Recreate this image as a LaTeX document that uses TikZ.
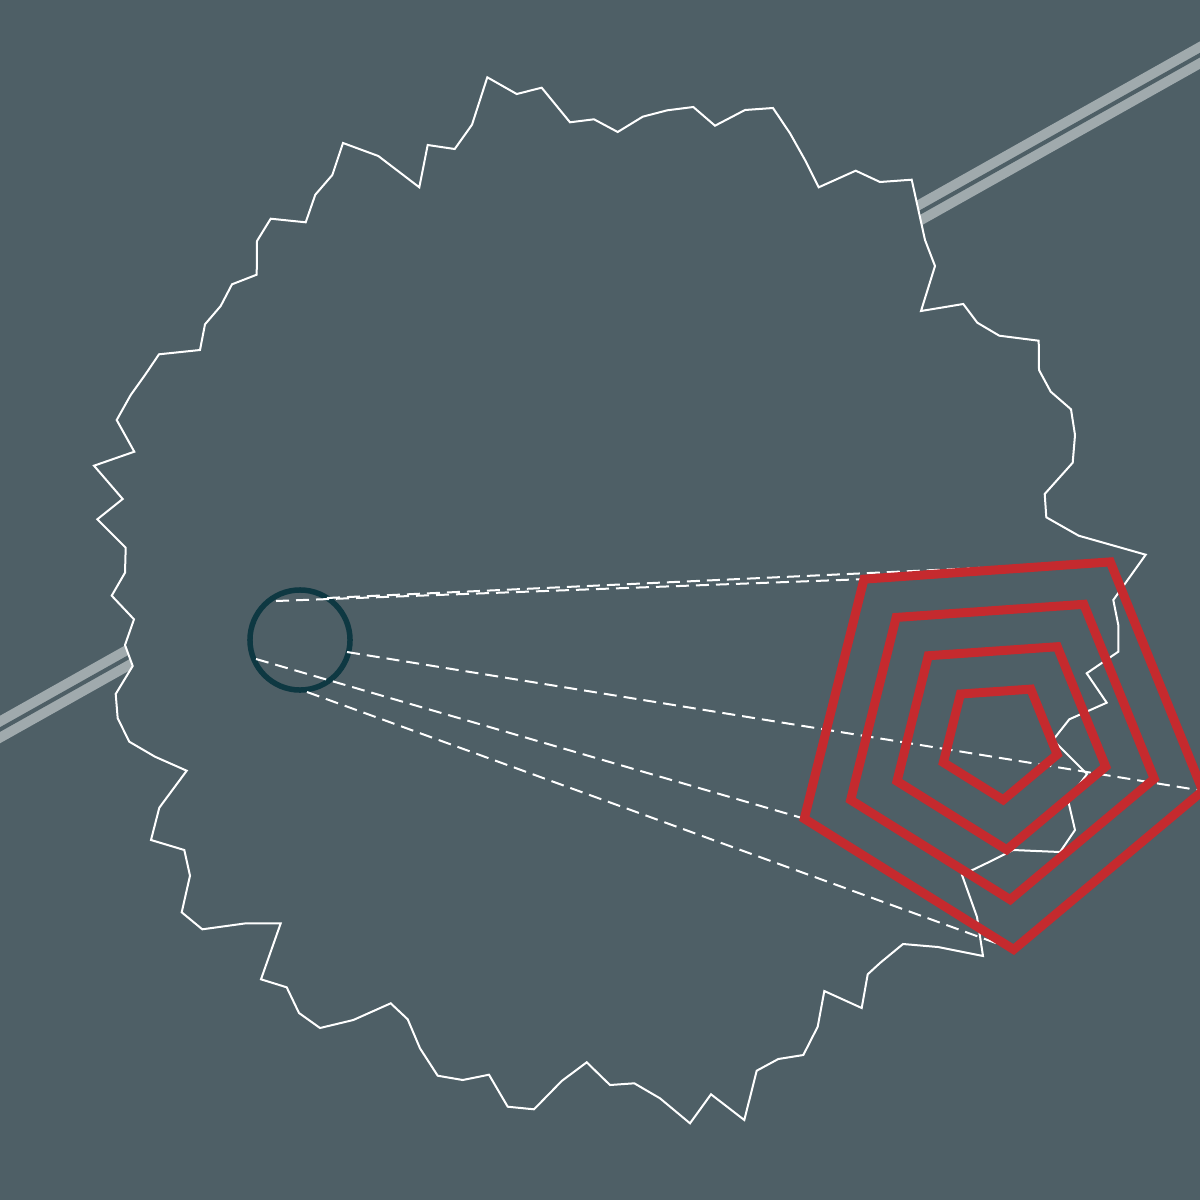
\documentclass[tikz,border=0pt]{standalone}
\usetikzlibrary{calc}
\definecolor{bgc}{RGB}{78,95,102}
\definecolor{rodc}{RGB}{160,170,173}
\definecolor{ringc}{RGB}{14,56,66}
\definecolor{redc}{RGB}{197,42,46}
\tikzset{
  rod/.style={draw=rodc, line width=0.1cm, double=bgc, double distance=0.04cm},
  rim/.style={fill=bgc, draw=white, line width=0.02cm, line join=miter},
  ring/.style={circle, draw=ringc, line width=0.055cm, minimum size=1cm, inner sep=0pt},
  ray/.style={draw=white, line width=0.02cm, dash pattern=on 0.13cm off 0.07cm},
  pent/.style={draw=redc, line width=0.09cm, line join=miter}
}
\begin{document}
\begin{tikzpicture}[x=0.01cm,y=-0.01cm]
\fill[bgc] (0,0) rectangle (1200,1200);
\useasboundingbox (0,0) rectangle (1200,1200);
\clip (0,0) rectangle (1200,1200);
% rod behind the rim
\coordinate (rodA) at (-50,757.6);
\coordinate (rodB) at (1250,27);
\draw[rod] (rodA) -- (rodB);
% jagged rim
\draw[rim] (487.3,77.3) -- (516.7,94) -- (541.7,87.7) -- (570,122.3) -- (594,119.3) -- (617.7,132) -- (642.7,116.7) -- (667.3,110.3) -- (693.3,107) -- (715,125.7) -- (745,110) -- (773,108) -- (790,133.3) -- (805,160) -- (818.7,187.3) -- (855.7,170.7) -- (880,182) -- (911.7,179.7) -- (925,240) -- (935,266) -- (921,311) -- (963.3,304) -- (977.3,322.7) -- (999.3,335.7) -- (1038.7,340.7) -- (1039,370) -- (1050.7,391.7) -- (1071,409.3) -- (1075,435) -- (1072.7,462.7) -- (1044.7,494) -- (1046.3,517.3) -- (1078.7,535.7) -- (1145.7,554.7) -- (1113.3,600) -- (1118.3,625) -- (1118.3,651.7) -- (1086.7,673.3) -- (1106.7,702.7) -- (1069.3,719.3) -- (1053,740) -- (1087,774) -- (1068,800) -- (1075,830) -- (1060,852) -- (1013,850) -- (987,863) -- (962,875) -- (977,917) -- (983,956) -- (938,947) -- (903,944) -- (880,963) -- (867.7,974.3) -- (861.7,1008) -- (824.3,991) -- (817.7,1026.7) -- (803.3,1055) -- (778.3,1059) -- (756.7,1070.7) -- (744.3,1120) -- (711,1094.3) -- (690,1123.3) -- (660,1098.3) -- (634.3,1083.3) -- (610,1085) -- (586.7,1062.3) -- (561.7,1081) -- (534,1109.3) -- (507.7,1106.7) -- (489,1074.7) -- (462.7,1080) -- (437.7,1075.7) -- (420,1048.3) -- (407.7,1019.3) -- (390.7,1003.3) -- (353.3,1020) -- (320,1028) -- (299,1013) -- (286.7,987.3) -- (261,979.3) -- (280.7,923.3) -- (246,923.3) -- (202.3,929.3) -- (181.7,912.3) -- (190,875.7) -- (184.3,850) -- (151,840) -- (159.3,807.7) -- (186.7,770.7) -- (155,756.7) -- (129.3,741.7) -- (117.7,718.3) -- (115.7,694) -- (132.7,666) -- (125,645) -- (134,619.3) -- (111.7,595.7) -- (125,572.7) -- (125.7,547.7) -- (97.3,519.3) -- (122.7,499) -- (94,465.7) -- (134.3,451.7) -- (116.7,420) -- (130.7,395) -- (145,375) -- (159,354.3) -- (200,350) -- (205,324.3) -- (220.7,306) -- (232,284.3) -- (256.7,274.7) -- (257,241) -- (270.7,218.7) -- (305.7,222.3) -- (315.3,194.7) -- (332.3,175) -- (343,143) -- (378.3,156) -- (419.3,187.3) -- (427.7,145) -- (454.7,149) -- (472,124.7) -- cycle;
% eye circle
\node[ring] (eye) at (300,640) {};
% pentagon centre and outer vertices
\coordinate (pc) at (999,740);
\coordinate (p1) at ($(pc)+(230:210)$);
\coordinate (p2) at ($(pc)+(302:210)$);
\coordinate (p3) at ($(pc)+(14:210)$);
\coordinate (p4) at ($(pc)+(86:210)$);
\coordinate (p5) at ($(pc)+(158:210)$);
% ray start points
\coordinate (s1) at (276,601);
\coordinate (s2) at (327,598);
\coordinate (s3) at (347,652);
\coordinate (s4) at (256,659);
\coordinate (s5) at (307,692);
\draw[ray] (s1) -- (p1);
\draw[ray] (s2) -- (p2);
\draw[ray] (s3) -- (p3);
\draw[ray] (s4) -- (p5);
\draw[ray] (s5) -- (p4);
% pentagons
\foreach \r in {60,110,160,210}{
  \draw[pent] ($(pc)+(86:\r)$) -- ($(pc)+(158:\r)$) -- ($(pc)+(230:\r)$) -- ($(pc)+(302:\r)$) -- ($(pc)+(14:\r)$) -- cycle;
}
\end{tikzpicture}
\end{document}
